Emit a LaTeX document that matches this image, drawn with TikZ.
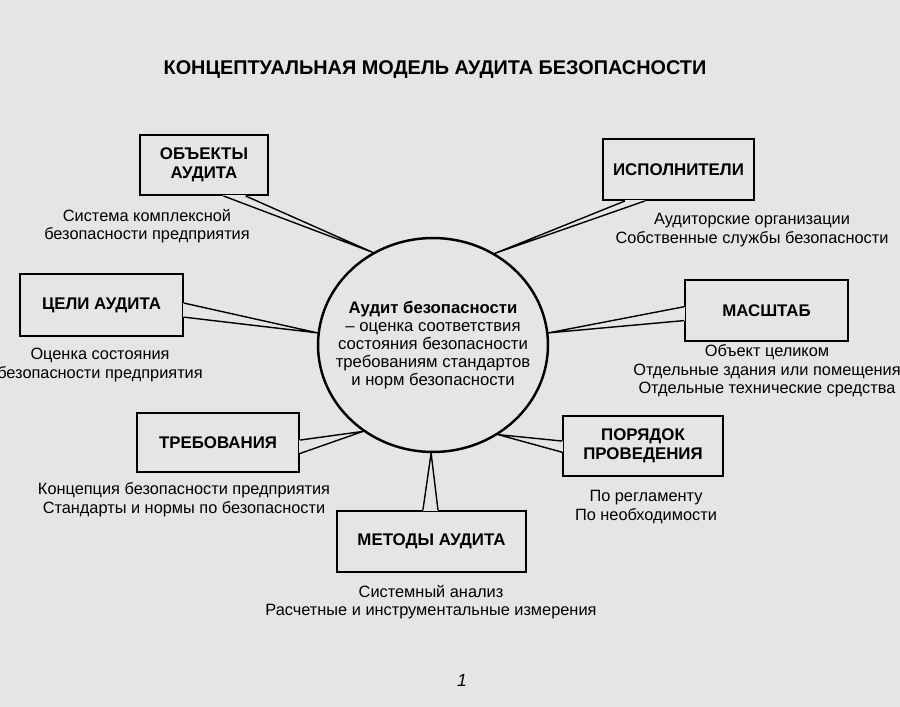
\documentclass[tikz,border=0pt]{standalone}
\usepackage{fontspec}
\setmainfont{Liberation Sans}
\usetikzlibrary{calc,shapes.geometric}
\definecolor{paper}{gray}{0.9}

\begin{document}
\begin{tikzpicture}[
  x=0.02cm, y=-0.02cm,
  topic/.style={draw,line width=1.1pt,fill=paper,inner sep=0pt,align=center,
    font=\fontsize{9.6}{10.8}\selectfont\bfseries},
  note/.style={align=center,font=\fontsize{9.3}{10.6}\selectfont},
  wedge/.style={line width=0.8pt,line join=round}
]
\useasboundingbox[fill=paper] (0,0) rectangle (900,707);

% ---------- title and core
\node[font=\fontsize{11.3}{13}\selectfont\bfseries] (title) at (435,70) {КОНЦЕПТУАЛЬНАЯ МОДЕЛЬ АУДИТА БЕЗОПАСНОСТИ};
\node[ellipse,draw,line width=1.4pt,minimum width=4.6cm,minimum height=4.28cm,inner sep=0pt] (core) at (433,345) {};
\node[align=center,font=\fontsize{9.5}{10.2}\selectfont] (coretext) at (core.center)
  {\textbf{Аудит безопасности}\\– оценка соответствия\\состояния безопасности\\требованиям стандартов\\и норм безопасности};

% ---------- boxes round the core
\node[topic,minimum width=2.56cm,minimum height=1.2cm] (obj) at (204,165) {ОБЪЕКТЫ\\АУДИТА};
\node[topic,minimum width=3.02cm,minimum height=1.22cm] (isp) at (678.5,169.5) {ИСПОЛНИТЕЛИ};
\node[topic,minimum width=3.26cm,minimum height=1.22cm] (size) at (766.5,310.5) {МАСШТАБ};
\node[topic,minimum width=3.26cm,minimum height=1.24cm] (goal) at (101.5,305) {ЦЕЛИ АУДИТА};
\node[topic,minimum width=3.24cm,minimum height=1.18cm] (req) at (218,442.5) {ТРЕБОВАНИЯ};
\node[topic,minimum width=3.78cm,minimum height=1.22cm] (meth) at (431.5,541.5) {МЕТОДЫ АУДИТА};
\node[topic,minimum width=3.2cm,minimum height=1.2cm] (order) at (643,446) {ПОРЯДОК\\ПРОВЕДЕНИЯ};

% ---------- callout wedges
\foreach \n/\p/\q/\f/\g/\ang in {
  obj/south west/south east/.65/.82/123,
  isp/south west/south east/.15/.28/56,
  size/north west/south west/.44/.66/6,
  goal/north east/south east/.47/.69/174,
  req/north east/south east/.46/.68/231,
  meth/north west/north east/.455/.534/269,
  order/north west/south west/.42/.60/306}{
  \draw[paper,line width=1.6pt] ($(\n.\p)!\f!(\n.\q)$) -- ($(\n.\p)!\g!(\n.\q)$);
  \draw[wedge] ($(\n.\p)!\f!(\n.\q)$) -- (core.\ang) -- ($(\n.\p)!\g!(\n.\q)$);
}

% ---------- notes under the boxes
\node[note] (objnote) at (147,226) {Система комплексной\\безопасности предприятия};
\node[note] (ispnote) at (752,230) {Аудиторские организации\\Собственные службы безопасности};
\node[note] (sizenote) at (767,371) {Объект целиком\\Отдельные здания или помещения\\Отдельные технические средства};
\node[note] (goalnote) at (100,365) {Оценка состояния\\безопасности предприятия};
\node[note] (reqnote) at (184,500) {Концепция безопасности предприятия\\Стандарты и нормы по безопасности};
\node[note] (methnote) at (431,602) {Системный анализ\\Расчетные и инструментальные измерения};
\node[note] (ordernote) at (646,507) {По регламенту\\По необходимости};

\node[font=\itshape] (pageno) at (462,680) {1};
\end{tikzpicture}
\end{document}
